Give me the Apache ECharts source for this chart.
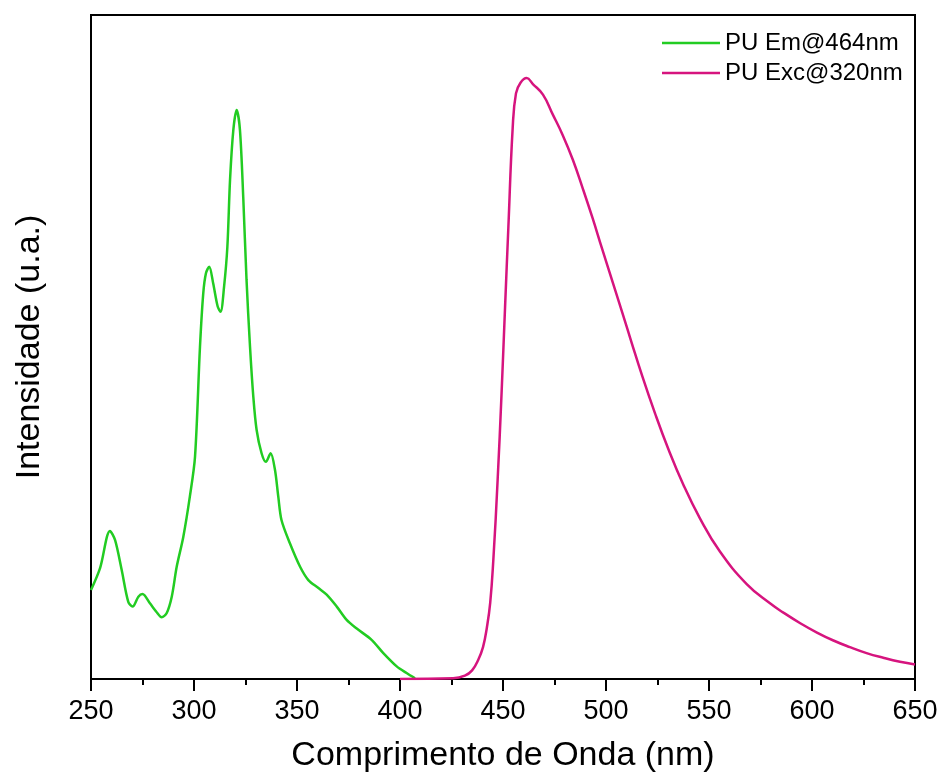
<!DOCTYPE html>
<html>
<head>
<meta charset="utf-8">
<script src="https://cdn.jsdelivr.net/npm/echarts@6/dist/echarts.min.js"></script>
<style>
  html, body { margin: 0; padding: 0; background: #fff; }
  #chart { width: 941px; height: 782px; }
</style>
</head>
<body>
<div id="chart"></div>
<script>
// Emission series (green): wavelength (nm) and intensity (a.u., 0-100 scale)
const emWavelength = [250, 254.4, 259.2, 261.7, 264.9, 268.1, 270.2, 273, 275, 278.6, 281.8, 284.3, 286.7, 289.2, 291.6, 294.8, 298, 300.5, 302.9, 304.5, 305.8, 307.4, 309.3, 311.5, 312.9, 314.6, 316.2, 317.5, 319.1, 320.7, 322.3, 323.9, 325.5, 327.2, 328.8, 330.4, 332.8, 334.9, 337.2, 339.3, 340.9, 342.5, 346.6, 351.5, 355.5, 360.4, 364.4, 369.3, 374.1, 379, 386.2, 391.9, 398.4, 403.2, 407.3];
const emIntensity  = [13.4, 16.7, 22.3, 20.9, 16.4, 11.6, 10.9, 12.4, 12.8, 11.4, 10.1, 9.3, 9.9, 12.4, 16.9, 21.4, 27.5, 33.5, 50.0, 58.1, 61.1, 62.1, 59.6, 56.1, 55.3, 59.1, 65.1, 75.2, 82.7, 85.7, 82.7, 72.6, 60.1, 50.0, 42.5, 37.5, 34.0, 32.7, 34.0, 31.5, 27.5, 23.9, 20.4, 16.9, 14.9, 13.7, 12.7, 10.9, 8.9, 7.6, 5.9, 3.9, 1.9, 0.9, 0.1];

// Excitation series (pink)
const excWavelength = [400, 425.8, 431.5, 435, 438, 440.3, 442.2, 443.8, 445.3, 447.4, 449.3, 451, 452.6, 454.7, 456.3, 458.5, 461.5, 464.5, 469.4, 474.2, 479, 483.9, 488.7, 493.5, 497.9, 503.5, 508.4, 512.5, 517.3, 523.8, 530.3, 537.5, 545.6, 555.3, 568.3, 579.6, 586.1, 594.3, 602.4, 610.4, 618.4, 626.5, 634.6, 642.7, 650];
const excIntensity  = [0, 0.1, 0.5, 1.3, 2.9, 4.8, 7.8, 11.5, 17.9, 30.0, 43.0, 56.0, 68.0, 83.0, 88.2, 89.8, 90.5, 89.6, 88.0, 85.0, 81.9, 78.2, 73.9, 69.4, 65.0, 59.5, 54.7, 50.6, 45.9, 40.0, 34.6, 29.3, 24.2, 19.2, 14.3, 11.4, 10.0, 8.4, 7.0, 5.8, 4.8, 3.9, 3.2, 2.6, 2.2];

const seriesNames = ['PU Em@464nm', 'PU Exc@320nm'];
const xTicks = [250, 300, 350, 400, 450, 500, 550, 600, 650];

const FONT = "'Liberation Sans', Arial, sans-serif";
const zip = (a, b) => a.map((v, i) => [v, b[i]]);

const chart = echarts.init(document.getElementById('chart'), null, { renderer: 'canvas' });
chart.setOption({
  backgroundColor: '#ffffff',
  animation: false,
  grid: {
    left: 91, right: 26, top: 15, bottom: 103,
    show: true, borderColor: '#000', borderWidth: 2, backgroundColor: 'transparent'
  },
  legend: {
    orient: 'vertical',
    left: 657,
    top: 26,
    icon: 'rect',
    itemWidth: 58,
    itemHeight: 2.5,
    itemGap: 6,
    textStyle: { fontFamily: FONT, fontSize: 24, color: '#000', lineHeight: 24 },
    data: seriesNames
  },
  xAxis: {
    type: 'value',
    min: xTicks[0],
    max: xTicks[xTicks.length - 1],
    interval: 50,
    name: 'Comprimento de Onda (nm)',
    nameLocation: 'middle',
    nameGap: 60,
    nameTextStyle: { fontFamily: FONT, fontSize: 34, color: '#000' },
    axisLine: { show: true, lineStyle: { color: '#000', width: 2 } },
    axisTick: { show: true, inside: false, length: 12, lineStyle: { color: '#000', width: 2 } },
    minorTick: { show: true, splitNumber: 2, length: 6, lineStyle: { color: '#000', width: 2 } },
    axisLabel: { fontFamily: FONT, fontSize: 27, color: '#000', margin: 19 },
    splitLine: { show: false }
  },
  yAxis: {
    type: 'value',
    min: 0,
    max: 100,
    name: 'Intensidade (u.a.)',
    nameLocation: 'middle',
    nameGap: 44,
    nameTextStyle: { fontFamily: FONT, fontSize: 34, color: '#000' },
    axisLine: { show: true, lineStyle: { color: '#000', width: 2 } },
    axisTick: { show: false },
    axisLabel: { show: false },
    splitLine: { show: false }
  },
  series: [
    {
      name: seriesNames[0],
      type: 'line',
      data: zip(emWavelength, emIntensity),
      symbol: 'none',
      smooth: 0.3,
      lineStyle: { color: '#22cc22', width: 2.5 },
      itemStyle: { color: '#22cc22' },
      clip: true
    },
    {
      name: seriesNames[1],
      type: 'line',
      data: zip(excWavelength, excIntensity),
      symbol: 'none',
      smooth: 0.45,
      lineStyle: { color: '#d6147e', width: 2.5 },
      itemStyle: { color: '#d6147e' },
      clip: true
    }
  ]
});
</script>
</body>
</html>
